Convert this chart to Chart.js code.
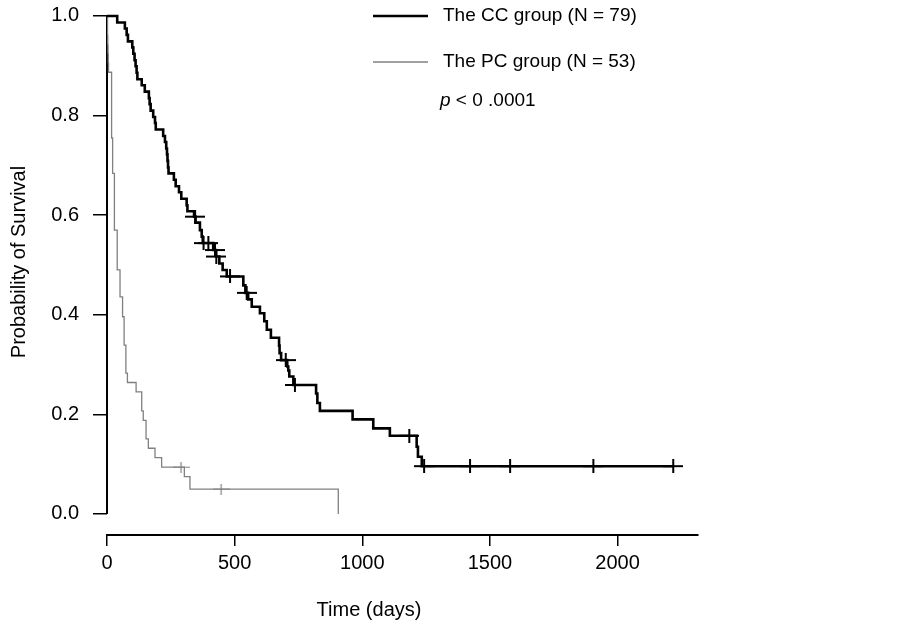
<!DOCTYPE html>
<html lang="en">
  <head>
    <meta charset="UTF-8" />
    <title>Survival by group</title>
    <script src="https://cdn.jsdelivr.net/npm/chart.js"></script>
    <style>
      html,
      body {
        margin: 0;
        padding: 0;
        background: #fff;
      }
      #wrap {
        position: relative;
        width: 903px;
        height: 628px;
      }
    </style>
  </head>
  <body>
    <div id="wrap"><canvas id="kmChart"></canvas></div>

    <script>
      // Kaplan-Meier steps: time (days) and survival after the step
      const ccTimes = [
        0, 40, 70, 77, 82, 99, 103, 108, 112, 116, 119, 136, 148, 164, 167,
        171, 181, 188, 191, 220, 227, 232, 235, 237, 239, 241, 262, 269, 282,
        291, 312, 315, 341, 347, 364, 371, 375, 416, 427, 440, 453, 469, 534,
        542, 553, 567, 599, 616, 626, 642, 674, 676, 682, 706, 710, 714, 730,
        819, 824, 834, 962, 1043, 1108, 1213, 1218, 1233, 2218,
      ];
      const ccSurv = [
        1.0, 0.987, 0.975, 0.962, 0.949, 0.937, 0.924, 0.911, 0.899, 0.886,
        0.873, 0.861, 0.848, 0.835, 0.823, 0.81, 0.797, 0.785, 0.772, 0.759,
        0.747, 0.734, 0.722, 0.709, 0.696, 0.684, 0.671, 0.658, 0.646, 0.633,
        0.62, 0.608, 0.597, 0.585, 0.57, 0.557, 0.544, 0.53, 0.517, 0.503,
        0.49, 0.477, 0.459, 0.444, 0.431, 0.416, 0.403, 0.387, 0.37, 0.354,
        0.338, 0.323, 0.309, 0.296, 0.288, 0.276, 0.259, 0.242, 0.223, 0.207,
        0.19, 0.172, 0.157, 0.135, 0.115, 0.096, 0.096,
      ];
      const ccCensorTimes = [
        345, 378, 397, 423, 428, 482, 547, 700, 736, 1184, 1242, 1422, 1579,
        1905, 2218,
      ];
      const ccCensorSurv = [
        0.597, 0.544, 0.544, 0.53, 0.517, 0.477, 0.444, 0.309, 0.259, 0.157,
        0.096, 0.096, 0.096, 0.096, 0.096,
      ];

      const pcTimes = [
        0, 2, 3, 4, 5, 6, 18, 22, 29, 40, 51, 61, 67, 74, 80, 114, 136, 142,
        153, 162, 188, 214, 303, 325, 906,
      ];
      const pcSurv = [
        1.0, 0.962, 0.943, 0.925, 0.906, 0.887, 0.755, 0.684, 0.57, 0.49,
        0.436, 0.396, 0.339, 0.283, 0.264, 0.245, 0.207, 0.188, 0.151, 0.132,
        0.113, 0.094, 0.075, 0.05, 0.0,
      ];
      const pcCensorTimes = [290, 447];
      const pcCensorSurv = [0.094, 0.05];

      const xTicks = [0, 500, 1000, 1500, 2000];
      const yTicks = [0, 0.2, 0.4, 0.6, 0.8, 1.0];
      const groupLabels = ["The CC group (N = 79)", "The PC group (N = 53)"];
      const pLabel = ["p", " < 0 .0001"];
      const xTitle = "Time (days)";
      const yTitle = "Probability of Survival";

      const FONT = "'Liberation Sans', Arial, sans-serif";
      const CC_COLOR = "#000000";
      const PC_COLOR = "#808080";

      const toPoints = (xs, ys) => xs.map((t, i) => ({ x: t, y: ys[i] }));

      // censor mark "+" as a small canvas used as point style
      function crossMark(w, h, lw, color) {
        const c = document.createElement("canvas");
        c.width = w;
        c.height = h;
        const g = c.getContext("2d");
        g.strokeStyle = color;
        g.lineWidth = lw;
        g.beginPath();
        g.moveTo(0, h / 2);
        g.lineTo(w, h / 2);
        g.moveTo(w / 2, 0);
        g.lineTo(w / 2, h);
        g.stroke();
        return c;
      }

      // keep the plot box fixed, no extra room for edge labels
      function noEdgePadding(s) {
        s.paddingTop = 0;
        s.paddingBottom = 0;
        s.paddingLeft = 0;
        s.paddingRight = 0;
      }

      // axis line, titles, legend
      const decor = {
        id: "decor",
        beforeDatasetsDraw(chart) {
          const { ctx, scales } = chart;
          const x0 = scales.x.getPixelForValue(0);
          ctx.save();
          ctx.strokeStyle = "#000";
          ctx.lineWidth = 2;
          ctx.beginPath();
          ctx.moveTo(x0, scales.y.getPixelForValue(yTicks[yTicks.length - 1]));
          ctx.lineTo(x0, scales.y.getPixelForValue(yTicks[0]));
          ctx.stroke();
          ctx.restore();
        },
        afterDraw(chart) {
          const { ctx } = chart;
          const ds = chart.data.datasets;
          ctx.save();
          ctx.fillStyle = "#000";

          // axis titles
          ctx.font = "20px " + FONT;
          ctx.textAlign = "center";
          ctx.textBaseline = "middle";
          ctx.fillText(xTitle, 369, 610);
          ctx.save();
          ctx.translate(19, 262);
          ctx.rotate(-Math.PI / 2);
          ctx.fillText(yTitle, 0, 0);
          ctx.restore();

          // legend
          const rows = [16, 62];
          ctx.font = "19px " + FONT;
          ctx.textAlign = "left";
          [0, 1].forEach((i) => {
            ctx.strokeStyle = ds[i].borderColor;
            ctx.lineWidth = ds[i].borderWidth;
            ctx.beginPath();
            ctx.moveTo(373, rows[i]);
            ctx.lineTo(428, rows[i]);
            ctx.stroke();
            ctx.fillText(groupLabels[i], 443, rows[i]);
          });

          ctx.font = "italic 19px " + FONT;
          ctx.fillText(pLabel[0], 440, 101);
          const pw = ctx.measureText(pLabel[0]).width;
          ctx.font = "19px " + FONT;
          ctx.fillText(pLabel[1], 440 + pw, 101);
          ctx.restore();
        },
      };

      new Chart(document.getElementById("kmChart"), {
        type: "line",
        data: {
          datasets: [
            {
              label: groupLabels[0],
              data: toPoints(ccTimes, ccSurv),
              stepped: true,
              borderColor: CC_COLOR,
              borderWidth: 2.6,
              pointRadius: 0,
              fill: false,
            },
            {
              label: groupLabels[1],
              data: toPoints(pcTimes, pcSurv),
              stepped: true,
              borderColor: PC_COLOR,
              borderWidth: 1.3,
              pointRadius: 0,
              fill: false,
            },
            {
              label: "CC censored",
              data: toPoints(ccCensorTimes, ccCensorSurv),
              showLine: false,
              pointStyle: crossMark(20, 14, 2, CC_COLOR),
              pointRadius: 6,
            },
            {
              label: "PC censored",
              data: toPoints(pcCensorTimes, pcCensorSurv),
              showLine: false,
              pointStyle: crossMark(17, 11, 1.2, PC_COLOR),
              pointRadius: 6,
            },
          ],
        },
        options: {
          responsive: true,
          maintainAspectRatio: false,
          animation: false,
          layout: { padding: { left: 0, right: 205, top: 10, bottom: 0 } },
          plugins: {
            legend: { display: false },
            tooltip: { enabled: false },
          },
          scales: {
            x: {
              type: "linear",
              min: 0,
              max: 2315,
              afterBuildTicks: (s) => {
                s.ticks = xTicks.map((v) => ({ value: v }));
              },
              afterFit: (s) => {
                s.height = 93;
                noEdgePadding(s);
              },
              grid: {
                drawOnChartArea: false,
                drawTicks: true,
                tickLength: 11,
                color: "#000",
                lineWidth: 1.5,
              },
              border: { display: true, color: "#000", width: 2 },
              ticks: {
                color: "#000",
                font: { family: FONT, size: 20 },
                padding: 5,
                maxRotation: 0,
                autoSkip: false,
                callback: (v) => String(v),
              },
            },
            y: {
              type: "linear",
              min: -0.0422,
              max: 1.012,
              afterBuildTicks: (s) => {
                s.ticks = yTicks.map((v) => ({ value: v }));
              },
              afterFit: (s) => {
                s.width = 107;
                noEdgePadding(s);
              },
              grid: {
                drawOnChartArea: false,
                drawTicks: true,
                tickLength: 14,
                color: "#000",
                lineWidth: 1.5,
              },
              border: { display: false },
              ticks: {
                color: "#000",
                font: { family: FONT, size: 20 },
                padding: 14,
                callback: (v) => v.toFixed(1),
              },
            },
          },
        },
        plugins: [decor],
      });
    </script>
  </body>
</html>
